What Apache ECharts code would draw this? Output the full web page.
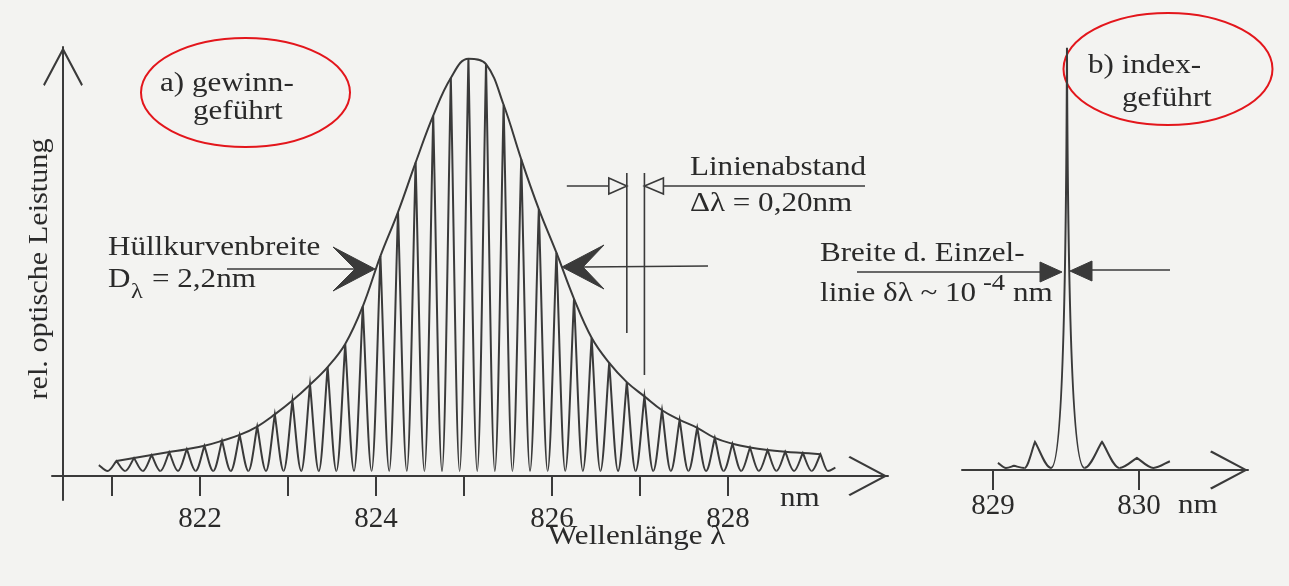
<!DOCTYPE html>
<html>
<head>
<meta charset="utf-8">
<script src="https://cdn.jsdelivr.net/npm/echarts@6/dist/echarts.min.js"></script>
<style>
  html, body { margin: 0; padding: 0; background: #f3f3f1; }
  #chart { width: 1289px; height: 586px; }
</style>
</head>
<body>
<div id="chart"></div>
<script>
// (a) gain-guided laser: longitudinal modes every 0.20 nm (wavelength in nm)
const modeWavelengthsA = [
  821.05, 821.25, 821.45, 821.65, 821.85, 822.05, 822.25, 822.45, 822.65, 822.85,
  823.05, 823.25, 823.45, 823.65, 823.85, 824.05, 824.25, 824.45, 824.65, 824.85,
  825.05, 825.25, 825.45, 825.65, 825.85, 826.05, 826.25, 826.45, 826.65, 826.85,
  827.05, 827.25, 827.45, 827.65, 827.85, 828.05, 828.25, 828.45, 828.65, 828.85,
  829.05
];
// relative optical power of each mode (peak = 100)
const modePeaksA = [
  3.6, 4.3, 5.0, 5.7, 6.4, 7.2, 8.4, 9.8, 11.8, 14.7,
  18.0, 21.8, 26.0, 31.5, 40.5, 52.5, 63.0, 74.8, 86.0, 95.0,
  99.6, 98.3, 88.6, 75.6, 63.7, 53.3, 42.3, 33.0, 27.0, 22.4,
  19.0, 15.7, 13.4, 11.5, 9.1, 7.7, 6.8, 6.2, 5.8, 5.5,
  5.2
];
const valleyLevelA = 1.2;
const edgeStartA = [820.85, 2.6];
const edgeEndA = [829.22, 2.0];

// (b) index-guided laser: one dominant mode with weak side modes
const modeWavelengthsB = [829.144, 829.288, 829.507, 829.747, 829.986];
const modePeaksB = [1.0, 6.7, 100.8, 6.7, 2.9];
const valleyLevelB = 0.5;
const edgeStartB = [829.034, 1.7];
const edgeEndB = [830.212, 2.1];

// axis ticks
const ticksA = [821, 822, 823, 824, 825, 826, 827, 828];
const tickLabelsA = [822, 824, 826, 828];
const ticksB = [829, 830];
const tickLabelsB = [829, 830];

// which two modes the line-spacing dimension marks
const spacingModes = [29, 30];

const INK = '#3a3a3a';
const TEXT = '#2a2a2a';
const FONT = '"Liberation Serif", "Times New Roman", serif';
const RED = '#e3161c';
const CHEVRON = 'path://M50,0 L100,94 L96,98 L50,11 L4,98 L0,94 Z';

// line profiles: straight-sided for low or dense lines, Lorentz-like for a tall isolated line
const PROFILE_STRAIGHT = { k1: 0.35, k2x: 0.3, k2y: 0.3 };
const PROFILE_LORENTZ = { k1: 0.55, k2x: 0.06, k2y: 0.75 };

// control points of one flank: rounded valley, cusp at the top
function upSeg(V, P, s) {
  const dx = P[0] - V[0], dy = P[1] - V[1];
  const c1 = [V[0] + s.k1 * dx, V[1]];
  const c2 = [P[0] - s.k2x * dx, P[1] - s.k2y * dy];
  return { c1, c2 };
}
function pt(p) { return p[0].toFixed(2) + ',' + p[1].toFixed(2); }

function combRenderer(wl, edgeStart, edgeEnd, valley, pickProfile) {
  return function (params, api) {
    const i = params.dataIndex, n = wl.length;
    const w = api.value(0), h = api.value(1);
    const prev = i === 0 ? edgeStart[0] : wl[i - 1];
    const next = i === n - 1 ? edgeEnd[0] : wl[i + 1];
    const P = api.coord([w, h]);
    const VL = api.coord([(prev + w) / 2, valley]);
    const VR = api.coord([(next + w) / 2, valley]);
    const shape = pickProfile(VL[1] - P[1]);
    let d = '';
    if (i === 0) {
      const S = api.coord(edgeStart);
      const s0 = upSeg(VL, S, PROFILE_STRAIGHT);
      d += 'M' + pt(S) + ' C' + pt(s0.c2) + ' ' + pt(s0.c1) + ' ' + pt(VL);
    } else {
      d += 'M' + pt(VL);
    }
    const u = upSeg(VL, P, shape);
    d += ' C' + pt(u.c1) + ' ' + pt(u.c2) + ' ' + pt(P);
    const r = upSeg(VR, P, shape);
    d += ' C' + pt(r.c2) + ' ' + pt(r.c1) + ' ' + pt(VR);
    if (i === n - 1) {
      const E = api.coord(edgeEnd);
      const e = upSeg(VR, E, PROFILE_STRAIGHT);
      d += ' C' + pt(e.c1) + ' ' + pt(e.c2) + ' ' + pt(E);
    }
    return {
      type: 'path',
      shape: { pathData: d },
      style: { fill: 'none', stroke: INK, lineWidth: 2, lineJoin: 'miter' }
    };
  };
}

const zip = (a, b) => a.map((v, i) => [v, b[i]]);

const chart = echarts.init(document.getElementById('chart'), null, { renderer: 'canvas' });

const axisText = { fontFamily: FONT, fontSize: 29, color: TEXT };

chart.setOption({
  animation: false,
  backgroundColor: '#f3f3f1',
  grid: [
    { left: 52, top: 47, width: 836, height: 453 },
    { left: 962, top: 46, width: 286, height: 424 }
  ],
  xAxis: [
    {
      type: 'value', gridIndex: 0, min: 820.318, max: 829.818,
      axisLine: {
        show: true, onZero: true,
        lineStyle: { color: INK, width: 2 },
        symbol: ['none', CHEVRON], symbolSize: [40, 40], symbolOffset: [0, -20]
      },
      axisTick: { show: true, inside: false, length: 20, customValues: ticksA, lineStyle: { color: INK, width: 2 } },
      axisLabel: Object.assign({ customValues: tickLabelsA, margin: 5 }, axisText),
      splitLine: { show: false }
    },
    {
      type: 'value', gridIndex: 1, min: 828.788, max: 830.747,
      axisLine: {
        show: true, onZero: false,
        lineStyle: { color: INK, width: 2 },
        symbol: ['none', CHEVRON], symbolSize: [40, 38], symbolOffset: [0, -19]
      },
      axisTick: { show: true, inside: false, length: 20, customValues: ticksB, lineStyle: { color: INK, width: 2 } },
      axisLabel: Object.assign({ customValues: tickLabelsB, margin: 22 }, axisText),
      splitLine: { show: false }
    }
  ],
  yAxis: [
    {
      type: 'value', gridIndex: 0, min: -5.73, max: 102.39, offset: -11,
      axisLine: {
        show: true, onZero: false,
        lineStyle: { color: INK, width: 2 },
        symbol: ['none', CHEVRON], symbolSize: [42, 39], symbolOffset: [0, -19.5]
      },
      axisTick: { show: false }, axisLabel: { show: false }, splitLine: { show: false }
    },
    {
      type: 'value', gridIndex: 1, min: 0, max: 101.2, show: false,
      splitLine: { show: false }
    }
  ],
  series: [
    {
      name: 'Moden (a)', type: 'custom', xAxisIndex: 0, yAxisIndex: 0, silent: true,
      encode: { x: 0, y: 1 },
      data: zip(modeWavelengthsA, modePeaksA),
      renderItem: combRenderer(modeWavelengthsA, edgeStartA, edgeEndA, valleyLevelA,
        () => PROFILE_STRAIGHT)
    },
    {
      name: 'Hüllkurve', type: 'line', xAxisIndex: 0, yAxisIndex: 0, silent: true,
      data: zip(modeWavelengthsA, modePeaksA),
      smooth: 0.4, showSymbol: false,
      lineStyle: { color: INK, width: 2 }
    },
    {
      name: 'Moden (b)', type: 'custom', xAxisIndex: 1, yAxisIndex: 1, silent: true,
      encode: { x: 0, y: 1 },
      data: zip(modeWavelengthsB, modePeaksB),
      renderItem: combRenderer(modeWavelengthsB, edgeStartB, edgeEndB, valleyLevelB,
        (heightPx) => (heightPx > 80 ? PROFILE_LORENTZ : PROFILE_STRAIGHT))
    }
  ]
});

// annotations: labels, dimension arrows and highlight rings
const FS = 28;
const STRETCH = 1.11;
function txt(s, x, baseline, extra) {
  const size = (extra && extra.size) || FS;
  return {
    type: 'text', silent: true,
    x: x, y: baseline - 0.3375 * size,
    scaleX: STRETCH,
    style: {
      text: s, fill: TEXT, font: size + 'px ' + FONT,
      align: 'left', verticalAlign: 'middle'
    }
  };
}
function seg(x1, y1, x2, y2, w) {
  return { type: 'line', silent: true, shape: { x1, y1, x2, y2 }, style: { stroke: INK, lineWidth: w || 1.6 } };
}
function poly(points, fill) {
  return {
    type: 'polygon', silent: true, shape: { points },
    style: fill ? { fill: INK, stroke: INK, lineWidth: 1 } : { fill: '#f3f3f1', stroke: INK, lineWidth: 1.6 }
  };
}
function ring(cx, cy, rx, ry) {
  return { type: 'ellipse', silent: true, shape: { cx, cy, rx, ry }, style: { fill: 'none', stroke: RED, lineWidth: 2 } };
}

const xs1 = chart.convertToPixel({ xAxisIndex: 0 }, modeWavelengthsA[spacingModes[0]]);
const xs2 = chart.convertToPixel({ xAxisIndex: 0 }, modeWavelengthsA[spacingModes[1]]);

const graphics = [
  // labels of the two panels
  txt('a) gewinn-', 160, 93), txt('geführt', 193, 121),
  txt('b) index-', 1088, 75), txt('geführt', 1122, 108),
  ring(245.5, 92.5, 104.5, 54.5),
  ring(1168, 69, 104.5, 56),

  // vertical axis title
  {
    type: 'text', silent: true, x: 40, y: 269, rotation: Math.PI / 2, scaleX: 1.08,
    style: {
      text: 'rel. optische Leistung', fill: TEXT, font: FS + 'px ' + FONT,
      align: 'center', verticalAlign: 'middle'
    }
  },
  txt('Wellenlänge λ', 548, 546),
  txt('nm', 780, 508),
  txt('nm', 1178, 515),

  // envelope width
  txt('Hüllkurvenbreite', 108, 257),
  txt('D', 108, 289), txt('λ', 131, 300, { size: 22 }), txt('= 2,2nm', 152, 289),
  seg(227, 269, 356, 269),
  poly([[375, 269], [333, 247], [355, 269], [333, 291]], true),
  seg(583, 267, 708, 266),
  poly([[562, 267], [604, 245], [583, 267], [604, 289]], true),

  // mode spacing
  txt('Linienabstand', 690, 177),
  txt('Δλ = 0,20nm', 690, 213),
  seg(xs1, 173, xs1, 333),
  seg(xs2, 173, xs2, 375),
  seg(xs1 - 60, 186, xs1 - 18, 186),
  poly([[xs1 - 18, 178], [xs1, 186], [xs1 - 18, 194]], false),
  poly([[xs2, 186], [xs2 + 19, 178], [xs2 + 19, 194]], false),
  seg(xs2 + 19, 186, 865, 186),

  // single-line width
  txt('Breite d. Einzel-', 820, 263),
  txt('linie δλ ~ 10', 820, 303), txt('-4', 983, 292, { size: 24 }), txt('nm', 1013, 303),
  seg(857, 272, 1042, 272),
  poly([[1062, 272], [1040, 262], [1040, 282]], true),
  poly([[1070, 271], [1092, 261], [1092, 281]], true),
  seg(1092, 270, 1170, 270)
];

chart.setOption({ graphic: graphics });
</script>
</body>
</html>
